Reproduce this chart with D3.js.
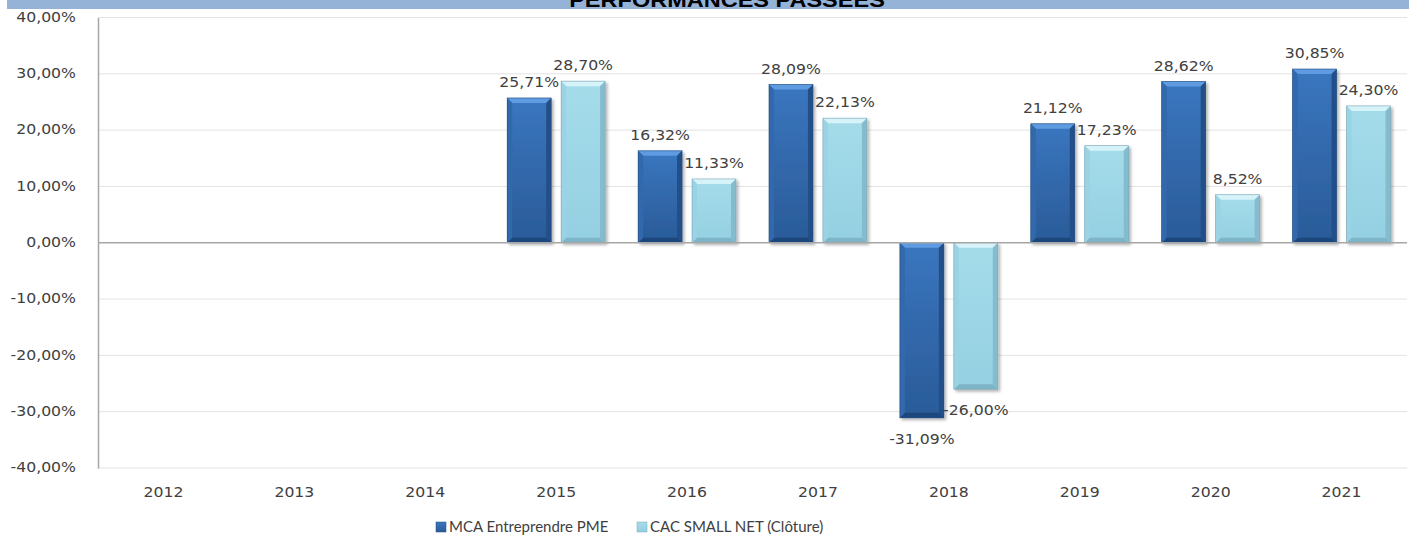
<!DOCTYPE html>
<html>
<head>
<meta charset="utf-8">
<script src="https://cdn.jsdelivr.net/npm/d3@7"></script>
<style>
  body { margin: 0; background: #fff; }
  svg text { fill: #404040; }
</style>
</head>
<body>
<div id="chart"></div>
<script>
// data
const years = ["2012", "2013", "2014", "2015", "2016", "2017", "2018", "2019", "2020", "2021"];
const mcaValues = [null, null, null, 25.71, 16.32, 28.09, -31.09, 21.12, 28.62, 30.85];
const cacValues = [null, null, null, 28.70, 11.33, 22.13, -26.00, 17.23, 8.52, 24.30];
const seriesNames = ["MCA Entreprendre PME", "CAC SMALL NET (Clôture)"];
const yTicks = [-40, -30, -20, -10, 0, 10, 20, 30, 40];
const chartTitle = "PERFORMANCES PASSEES";

const width = 1409, height = 536;
const stretch = 1.12; // the picture is a little wide

const svg = d3.select("#chart")
    .append("svg")
    .attr("width", width)
    .attr("height", height);

const fr = d3.formatLocale({ decimal: ",", thousands: " ", grouping: [3], currency: ["", "€"], minus: "-" });
const fmt = v => fr.format(".2f")(v) + "%";

const y = d3.scaleLinear().domain([-40, 40]).range([468, 17.5]);
const x0 = d3.scaleBand().domain(years).range([98, 1407]);
const x1 = d3.scaleBand().domain([0, 1]).range([0, x0.bandwidth()])
    .paddingInner(0.185).paddingOuter(0.306);

// palettes: base top, base bottom, top bevel, bottom bevel, left, right
const pal = [
    { top: "#3a76bf", bot: "#2a5b98", bevT: "#5e9be0", bevB: "#1f467c", l: "#3169ad", r: "#244f88", stroke: "#244c80" },
    { top: "#a5dcea", bot: "#94d0e2", bevT: "#d6f3fa", bevB: "#7eb5c6", l: "#9ad3e3", r: "#84bccd", stroke: "#7aa6b4" }
];

const defs = svg.append("defs");
pal.forEach((p, i) => {
    const g = defs.append("linearGradient").attr("id", "grad" + i)
        .attr("x1", 0).attr("y1", 0).attr("x2", 0).attr("y2", 1);
    g.append("stop").attr("offset", "0%").attr("stop-color", p.top);
    g.append("stop").attr("offset", "100%").attr("stop-color", p.bot);
});
const shadow = defs.append("filter").attr("id", "shadow")
    .attr("x", "-20%").attr("y", "-20%").attr("width", "150%").attr("height", "150%");
shadow.append("feDropShadow").attr("dx", 2).attr("dy", 2)
    .attr("stdDeviation", 1.5).attr("flood-color", "#000").attr("flood-opacity", 0.3);

// title band
svg.append("rect").attr("x", 7).attr("y", 0).attr("width", width - 7).attr("height", 9)
    .attr("fill", "#95b3d7");
svg.append("text")
    .attr("transform", `translate(727,7) scale(${stretch},1)`)
    .attr("text-anchor", "middle")
    .style("font-family", "'Liberation Sans', Arial, sans-serif")
    .style("font-weight", "bold")
    .style("font-size", "21px")
    .style("fill", "#000")
    .text(chartTitle);

// grid
svg.append("g")
    .selectAll("line")
    .data(yTicks.filter(t => t !== 0))
    .join("line")
    .attr("x1", x0.range()[0]).attr("x2", x0.range()[1])
    .attr("y1", d => y(d)).attr("y2", d => y(d))
    .attr("stroke", "#e3e3e3").attr("stroke-width", 1);

// y axis
const yAxis = svg.append("g")
    .attr("transform", `translate(${x0.range()[0]},0)`)
    .call(d3.axisLeft(y).tickValues(yTicks).tickSize(0).tickPadding(0).tickFormat(fmt));
yAxis.select(".domain").attr("stroke", "#a6a6a6").attr("stroke-width", 1.5);
yAxis.selectAll("text")
    .attr("x", null).attr("dy", null)
    .attr("text-anchor", "end")
    .attr("dominant-baseline", "middle")
    .attr("transform", d => `translate(-22,${0}) scale(${stretch},1)`)
    .style("font-family", "'DejaVu Sans', Verdana, sans-serif")
    .style("font-size", "14px")
    .style("fill", "#404040");
// stretch labels around their right edge
yAxis.selectAll(".tick text")
    .attr("transform", `translate(-22,0) scale(${stretch},1)`);

// bars
const rows = years.map((yr, i) => ({ year: yr, vals: [mcaValues[i], cacValues[i]] }));
const groups = svg.append("g")
    .selectAll("g")
    .data(rows)
    .join("g")
    .attr("transform", d => `translate(${x0(d.year)},0)`);

const bars = groups.selectAll("g.bar")
    .data(d => d.vals.map((v, s) => ({ v, s })).filter(e => e.v !== null))
    .join("g")
    .attr("class", "bar")
    .attr("filter", "url(#shadow)");

bars.each(function (d) {
    const g = d3.select(this);
    const p = pal[d.s];
    const bx = x1(d.s), bw = x1.bandwidth();
    const t = Math.min(y(d.v), y(0)), b = Math.max(y(d.v), y(0));
    const bv = 5;
    g.append("rect").attr("x", bx).attr("y", t).attr("width", bw).attr("height", b - t)
        .attr("fill", `url(#grad${d.s})`);
    const poly = pts => g.append("polygon").attr("points", pts.map(q => q.join(",")).join(" "));
    poly([[bx, t], [bx + bw, t], [bx + bw - bv, t + bv], [bx + bv, t + bv]]).attr("fill", p.bevT);
    poly([[bx, b], [bx + bw, b], [bx + bw - bv, b - bv], [bx + bv, b - bv]]).attr("fill", p.bevB);
    poly([[bx, t], [bx + bv, t + bv], [bx + bv, b - bv], [bx, b]]).attr("fill", p.l);
    poly([[bx + bw, t], [bx + bw - bv, t + bv], [bx + bw - bv, b - bv], [bx + bw, b]]).attr("fill", p.r);
    g.append("rect").attr("x", bx).attr("y", t).attr("width", bw).attr("height", b - t)
        .attr("fill", "none").attr("stroke", p.stroke).attr("stroke-width", 0.6);
});

// zero line
svg.append("line")
    .attr("x1", x0.range()[0]).attr("x2", x0.range()[1])
    .attr("y1", y(0)).attr("y2", y(0))
    .attr("stroke", "#a6a6a6").attr("stroke-width", 1.5);

// data labels
groups.selectAll("text.lbl")
    .data(d => d.vals.map((v, s) => ({ v, s })).filter(e => e.v !== null))
    .join("text")
    .attr("class", "lbl")
    .attr("text-anchor", "middle")
    .attr("transform", d => {
        const cx = x1(d.s) + x1.bandwidth() / 2;
        const ty = d.v >= 0 ? y(d.v) - 11 : y(d.v) + 26;
        return `translate(${cx},${ty}) scale(${stretch},1)`;
    })
    .style("font-family", "'DejaVu Sans', Verdana, sans-serif")
    .style("font-size", "14px")
    .text(d => fmt(d.v));

// x labels
svg.append("g")
    .selectAll("text")
    .data(years)
    .join("text")
    .attr("text-anchor", "middle")
    .attr("transform", d => `translate(${x0(d) + x0.bandwidth() / 2},497) scale(${stretch},1)`)
    .style("font-family", "'DejaVu Sans', Verdana, sans-serif")
    .style("font-size", "14px")
    .text(d => d);

// legend
const legend = svg.append("g").attr("transform", "translate(436,532)");
const legendX = [0, 201];
seriesNames.forEach((name, i) => {
    const lg = legend.append("g").attr("transform", `translate(${legendX[i]},0)`);
    lg.append("rect").attr("x", 0).attr("y", -10).attr("width", 10).attr("height", 10)
        .attr("fill", `url(#grad${i})`).attr("stroke", pal[i].stroke).attr("stroke-width", 0.5);
    lg.append("text").attr("x", 13).attr("y", 0)
        .style("font-family", "Lato, 'Open Sans', sans-serif")
        .style("font-size", "15px")
        .text(name);
});
</script>
</body>
</html>
